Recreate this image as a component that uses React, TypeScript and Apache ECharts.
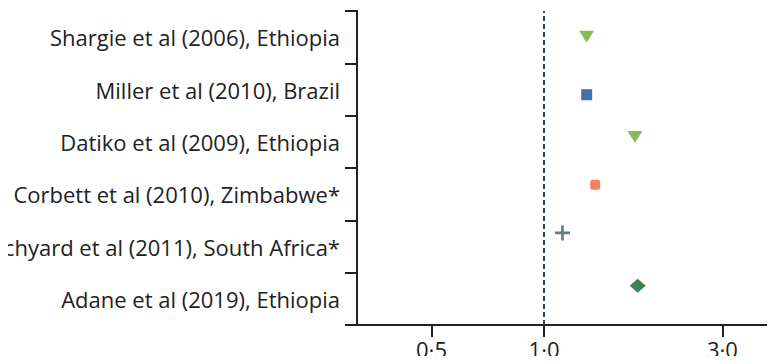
import React, { useEffect, useRef } from "react";
import * as echarts from "echarts";

const studies: string[] = [
  "Shargie et al (2006), Ethiopia",
  "Miller et al (2010), Brazil",
  "Datiko et al (2009), Ethiopia",
  "Corbett et al (2010), Zimbabwe*",
  "Churchyard et al (2011), South Africa*",
  "Adane et al (2019), Ethiopia",
];
const ratios: number[] = [1.3, 1.3, 1.75, 1.37, 1.12, 1.78];
const rowPositions: number[] = [5.51, 4.4, 3.59, 2.68, 1.76, 0.75];
const xTicks: number[] = [0.5, 1, 3];
const referenceValue = 1;

const markerStyles = [
  { symbol: "triangle", size: [15, 12], rotate: 180, color: "#66ad34" },
  { symbol: "rect", size: 11, rotate: 0, color: "#12509e" },
  { symbol: "triangle", size: [15, 12], rotate: 180, color: "#66ad34" },
  { symbol: "roundRect", size: 10, rotate: 0, color: "#f2643a" },
  {
    symbol: "path://M6,0h2.6v6h6v2.6h-6v6h-2.6v-6h-6v-2.6h6z",
    size: 15,
    rotate: 0,
    color: "#3a5a68",
  },
  { symbol: "diamond", size: [16, 14], rotate: 0, color: "#066530" },
];

const FONT = "'Open Sans', sans-serif";

export default function App() {
  const ref = useRef<HTMLDivElement>(null);
  useEffect(() => {
    if (!ref.current) return;
    const chart = echarts.init(ref.current, null, { renderer: "svg" });
    chart.setOption({
      animation: false,
      backgroundColor: "#ffffff",
      grid: {
        left: 357,
        top: 11,
        right: 0,
        bottom: 39,
        containLabel: false,
        outerBoundsMode: "none",
      },
      xAxis: {
        type: "log",
        min: 0.316,
        max: 4.146,
        axisLine: { show: true, lineStyle: { color: "#222", width: 2 } },
        axisTick: {
          show: true,
          length: 12,
          lineStyle: { color: "#222", width: 2 },
          customValues: xTicks,
        },
        minorTick: { show: false },
        splitLine: { show: false },
        axisLabel: {
          customValues: xTicks,
          margin: 13,
          fontFamily: FONT,
          fontSize: 22,
          lineHeight: 22,
          color: "#222",
          formatter: (v: number) => Number(v).toFixed(1).replace(".", "·"),
        },
      },
      yAxis: [
        {
          type: "category",
          data: studies,
          inverse: true,
          boundaryGap: true,
          axisLine: { show: true, lineStyle: { color: "#222", width: 2 } },
          axisTick: { show: true, length: 12, lineStyle: { color: "#222", width: 2 } },
          splitLine: { show: false },
          axisLabel: {
            margin: 17,
            fontFamily: FONT,
            fontSize: 22,
            color: "#222",
          },
        },
        {
          type: "value",
          min: 0,
          max: 6,
          show: false,
          splitLine: { show: false },
        },
      ],
      series: [
        {
          type: "scatter",
          yAxisIndex: 1,
          data: ratios.map((r, i) => ({
            value: [r, rowPositions[i]],
            symbol: markerStyles[i].symbol,
            symbolSize: markerStyles[i].size,
            symbolRotate: markerStyles[i].rotate,
            itemStyle: { color: markerStyles[i].color },
          })),
          markLine: {
            silent: true,
            symbol: "none",
            label: { show: false },
            lineStyle: { type: [5, 3], color: "#2f4f55", width: 2 },
            data: [{ xAxis: referenceValue }],
          },
          z: 3,
        },
      ],
    });
    return () => chart.dispose();
  }, []);
  return <div ref={ref} style={{ width: 775, height: 364, margin: -8 }} />;
}
